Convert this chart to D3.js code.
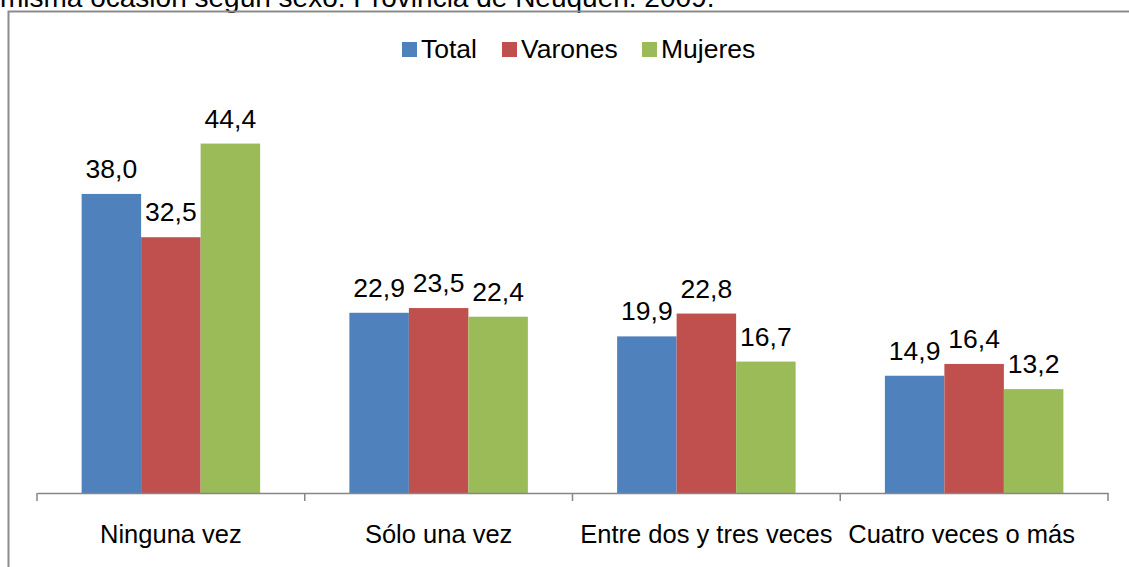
<!DOCTYPE html>
<html>
<head>
<meta charset="utf-8">
<script src="https://cdn.jsdelivr.net/npm/d3@7"></script>
<style>
  html, body { margin: 0; padding: 0; background: #fff; }
  svg { display: block; font-family: "Liberation Sans", Arial, sans-serif; }
</style>
</head>
<body>
<svg id="chart" width="1129" height="567"></svg>
<script>
const titleText = "misma ocasión según sexo. Provincia de Neuquén. 2009.";
const categories = ["Ninguna vez", "Sólo una vez", "Entre dos y tres veces", "Cuatro veces o más"];
const seriesNames = ["Total", "Varones", "Mujeres"];
const totalValues = [38.0, 22.9, 19.9, 14.9];
const varonesValues = [32.5, 23.5, 22.8, 16.4];
const mujeresValues = [44.4, 22.4, 16.7, 13.2];
const colors = ["#4F81BD", "#C0504D", "#9BBB59"];

const seriesValues = [totalValues, varonesValues, mujeresValues];
const svg = d3.select("#chart");

// title (partially cut off at the top, as in the reference)
svg.append("text")
  .attr("x", 0).attr("y", 7)
  .attr("font-size", 28)
  .attr("fill", "#000")
  .text(titleText);

// chart frame
svg.append("rect")
  .attr("x", 8.5).attr("y", 11.5)
  .attr("width", 1140).attr("height", 600)
  .attr("fill", "none")
  .attr("stroke", "#8c8c8c")
  .attr("stroke-width", 2);

const x0 = d3.scaleBand().domain(categories).range([37, 1108]).paddingInner(0).paddingOuter(0);
const x1 = d3.scaleBand().domain(seriesNames).range([0, x0.bandwidth()]).paddingInner(0).paddingOuter(0.75);
const y = d3.scaleLinear().domain([0, 50]).range([493, 99.5]);

// bars
const groups = svg.append("g").selectAll("g")
  .data(categories)
  .join("g")
  .attr("transform", d => `translate(${x0(d)},0)`);

groups.selectAll("rect")
  .data((c, ci) => seriesNames.map((s, si) => ({ s, si, v: seriesValues[si][ci] })))
  .join("rect")
  .attr("x", d => x1(d.s))
  .attr("y", d => y(d.v))
  .attr("width", x1.bandwidth())
  .attr("height", d => y(0) - y(d.v))
  .attr("fill", d => colors[d.si]);

groups.selectAll("text")
  .data((c, ci) => seriesNames.map((s, si) => ({ s, si, v: seriesValues[si][ci] })))
  .join("text")
  .attr("x", d => x1(d.s) + x1.bandwidth() / 2)
  .attr("y", d => y(d.v) - 16)
  .attr("text-anchor", "middle")
  .attr("font-size", 26.5)
  .attr("fill", "#000")
  .text(d => d3.format(".1f")(d.v).replace(".", ","));

// x axis
const axis = d3.axisBottom(x0).tickSize(0).tickPadding(0);
const gx = svg.append("g").attr("transform", `translate(0,${y(0)})`).call(axis);
gx.select(".domain").attr("stroke", "#868686").attr("stroke-width", 1.5);
gx.selectAll(".tick text")
  .attr("font-size", 25.5)
  .attr("font-family", "Liberation Sans, Arial, sans-serif")
  .attr("fill", "#000")
  .attr("dy", 0)
  .attr("y", 50);
// keep labels inside the plot's right margin (as the original does)
const rightLimit = 1075;
gx.selectAll(".tick text").each(function () {
  const bb = this.getBBox();
  const tr = this.parentNode.getAttribute("transform");
  const tx = +tr.match(/translate\(([-\d.]+)/)[1];
  const over = tx + bb.x + bb.width - rightLimit;
  if (over > 0) d3.select(this).attr("x", -over);
});
// category separator ticks
const bounds = categories.map(c => x0(c)).concat([x0.range()[1]]);
svg.append("g").selectAll("line")
  .data(bounds)
  .join("line")
  .attr("x1", d => d).attr("x2", d => d)
  .attr("y1", y(0)).attr("y2", y(0) + 8)
  .attr("stroke", "#868686")
  .attr("stroke-width", 1.5);

// legend
const legendX = [402, 502, 642];
const lg = svg.append("g").selectAll("g")
  .data(seriesNames)
  .join("g")
  .attr("transform", (d, i) => `translate(${legendX[i]},0)`);
lg.append("rect")
  .attr("x", 0).attr("y", 42)
  .attr("width", 15).attr("height", 15)
  .attr("fill", (d, i) => colors[i]);
lg.append("text")
  .attr("x", 19).attr("y", 58)
  .attr("font-size", 26.5)
  .attr("fill", "#000")
  .text(d => d);
</script>
</body>
</html>
